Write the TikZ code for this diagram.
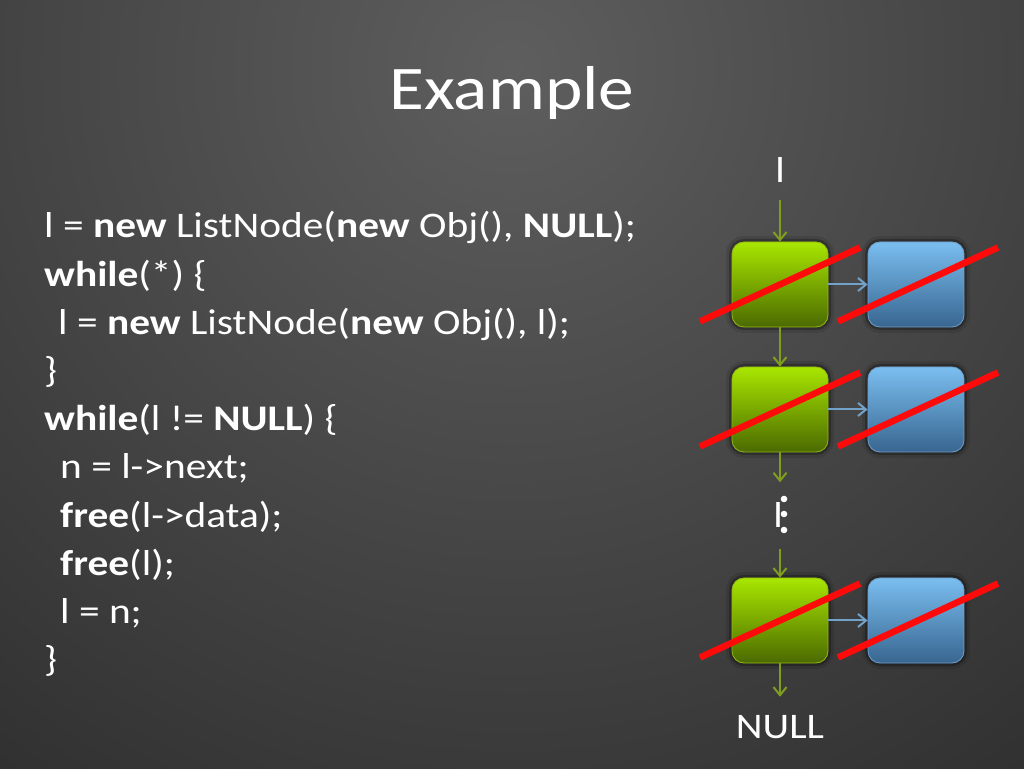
\documentclass[tikz,border=0pt]{standalone}
\usepackage{fontspec}
\setmainfont[FakeStretch=1.15]{Carlito}
\usetikzlibrary{arrows.meta}
\definecolor{bginner}{HTML}{5E5E5E}
\definecolor{bgouter}{HTML}{101010}
\definecolor{gtop}{HTML}{A8E600}
\definecolor{gbot}{HTML}{4B6A00}
\definecolor{gborder}{HTML}{94B814}
\definecolor{btop}{HTML}{7ABEF0}
\definecolor{bbot}{HTML}{386690}
\definecolor{bborder}{HTML}{6F9FCB}
\definecolor{garrowc}{HTML}{809E1E}
\definecolor{barrowc}{HTML}{72A2C8}
\definecolor{strikec}{HTML}{FF0A0A}
\begin{document}
\begin{tikzpicture}[x=1pt,y=1pt,
  codeline/.style={anchor=base west, inner sep=0pt, text=white, font=\fontsize{36}{42}\selectfont},
  lbl/.style={inner sep=0pt, text=white, font=\fontsize{36}{42}\selectfont},
  boxbase/.style={rounded corners=12pt, minimum width=96pt, minimum height=85pt, inner sep=0pt,
    line width=0.8pt,
    preaction={draw=black, line width=12pt, opacity=0.10},
    preaction={draw=black, line width=6pt, opacity=0.25}},
  gbox/.style={boxbase, draw=gborder, top color=gtop, bottom color=gbot},
  bbox/.style={boxbase, draw=bborder, top color=btop, bottom color=bbot},
  garrow/.style={draw=garrowc, line width=2pt, -{Straight Barb[length=8pt,width=13pt,line width=2pt]}},
  barrow/.style={draw=barrowc, line width=2pt, -{Straight Barb[length=8pt,width=13pt,line width=2pt]}},
  strike/.style={draw=strikec, line width=6.5pt}
]
\useasboundingbox (0,0) rectangle (1024,768);
\begin{scope}
  \clip (0,0) rectangle (1024,768);
  \shade[inner color=bginner, outer color=bgouter] (512,700) circle (1500pt);
\end{scope}

% title
\node[anchor=base, inner sep=0pt, text=white, font=\fontsize{62}{70}\selectfont] (title) at (512,658) {Example};

% code
\node[codeline] (c1) at (44,530) {l = \textbf{new} ListNode(\textbf{new} Obj(), \textbf{NULL});};
\node[codeline] (c2) at (44,481.8) {\textbf{while}(*) \{};
\node[codeline] (c3) at (58,433.6) {l = \textbf{new} ListNode(\textbf{new} Obj(), l);};
\node[codeline] (c4) at (44,385.4) {\}};
\node[codeline] (c5) at (44,337.2) {\textbf{while}(l != \textbf{NULL}) \{};
\node[codeline] (c6) at (60,289) {n = l->next;};
\node[codeline] (c7) at (60,240.8) {\textbf{free}(l->data);};
\node[codeline] (c8) at (60,192.6) {\textbf{free}(l);};
\node[codeline] (c9) at (60,144.4) {l = n;};
\node[codeline] (c10) at (44,96.2) {\}};

% diagram
\node[lbl, anchor=base] (ltop) at (780,585) {l};
\node[gbox] (g1) at (780,483.5) {};
\node[bbox] (b1) at (916,483.5) {};
\node[gbox] (g2) at (780,358.5) {};
\node[bbox] (b2) at (916,358.5) {};
\node[lbl, minimum height=66pt] (lmid) at (778,252.5) {l};
\node[gbox] (g3) at (780,147.5) {};
\node[bbox] (b3) at (916,147.5) {};
\node[lbl, anchor=base] (null) at (780,30) {NULL};

% vertical dots
\fill[white] (784,269) circle (3.3pt) (784,254) circle (3.3pt) (784,238) circle (3.3pt);

% connectors
\draw[garrow, shorten <=17pt] (ltop) -- (g1);
\draw[garrow] (g1) -- (g2);
\draw[garrow] (g2.south) -- (g2.south |- lmid.north);
\draw[garrow] (g2.south |- lmid.south) -- (g3.north);
\draw[garrow, shorten >=18pt] (g3) -- (null);
\draw[barrow] (g1) -- (b1);
\draw[barrow] (g2) -- (b2);
\draw[barrow] (g3) -- (b3);

% strike-through lines
\foreach \g/\b in {g1/b1, g2/b2, g3/b3}{
  \draw[strike] ([shift={(-80,-37)}]\g.center) -- ([shift={(80,37)}]\g.center);
  \draw[strike] ([shift={(-78,-37)}]\b.center) -- ([shift={(82,37)}]\b.center);
}
\end{tikzpicture}
\end{document}
